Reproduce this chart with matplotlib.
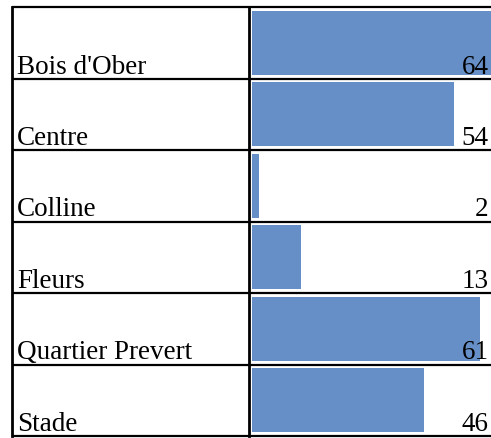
import matplotlib
matplotlib.use("Agg")
from matplotlib import pyplot as plt

names = ["Bois d'Ober", "Centre", "Colline", "Fleurs", "Quartier Prevert", "Stade"]
counts = [64, 54, 2, 13, 61, 46]

bar_color = "#668fc7"
px = 3.74  # pixels per unit on the bar column

fig = plt.figure(figsize=(4.91, 4.39), dpi=100)
W, H = 491.0, 439.0
left, top, bottom = 12.0, 8.0, 437.0
ax = fig.add_axes([left / W, 1 - bottom / H, 1 - left / W, (bottom - top) / H])

x0 = -(252 - left) / px
x1 = (W - 252) / px
ax.set_xlim(x0, x1)
ax.set_ylim(len(names), 0)
ax.axis("off")

rows = range(len(names))
ax.barh([i + 0.5 for i in rows], counts, height=0.89, left=0, color=bar_color, zorder=1)

# table grid
lw = 1.6
for i in range(len(names) + 1):
    ax.plot([x0, x1], [i, i], color="black", lw=lw, solid_capstyle="butt", zorder=3, clip_on=False)
ax.plot([x0, x0], [0, len(names)], color="black", lw=2.0, zorder=3, clip_on=False)
ax.plot([-0.8, -0.8], [0, len(names)], color="black", lw=2.0, zorder=3, clip_on=False)

font = dict(family="Liberation Serif", fontsize=19.5, color="black")
pad = 6 / 71.5
for i, (n, c) in enumerate(zip(names, counts)):
    ax.text(x0 + 5 / px, i + 1 - pad, n, ha="left", va="baseline", zorder=4, **font)
    ax.text(x1 - 2.5 / px, i + 1 - pad, str(c), ha="right", va="baseline", zorder=4, **font)

fig.savefig("out.png", dpi=100, facecolor="white")
